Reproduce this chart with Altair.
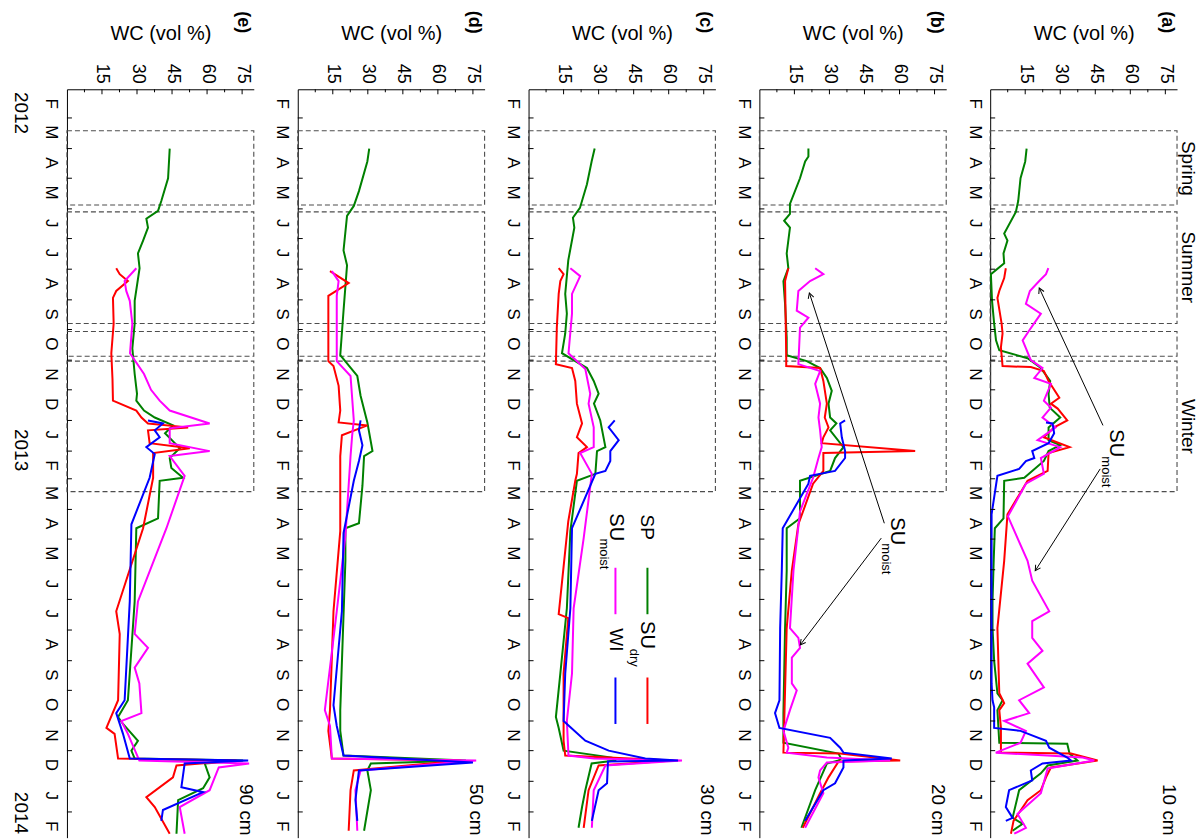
import math
import pandas as pd
import altair as alt

# ---------------- values ----------------
SERIES = ["SP", "SU_dry", "SU_moist", "WI"]
COLORS = ["#008000", "#ff0000", "#ff00ff", "#0000ff"]
LETTERS = ["(e)", "(d)", "(c)", "(b)", "(a)"]          # panels left -> right
DEPTHS = ["90 cm", "50 cm", "30 cm", "20 cm", "10 cm"]
WC_TICKS = [15, 30, 45, 60, 75]
WC_MINOR = [7.5, 22.5, 37.5, 52.5, 67.5]
YEARS = ["2012", "2013", "2014"]
YEAR_POS = ["2012-02-25", "2013-01-31", "2014-02-02"]
BOX_START = ["2012-03-14", "2012-06-04", "2012-10-03", "2012-11-02"]
BOX_END = ["2012-05-28", "2012-09-25", "2012-10-28", "2013-03-14"]
SEASONS = ["Spring", "Summer", "Winter"]
SEASON_POS = ["2012-04-21", "2012-07-30", "2013-01-07"]

# ---- (a) 10 cm ----
A_SP_T = ["2012-04-01","2012-04-14","2012-05-01","2012-05-24","2012-06-04","2012-06-26","2012-07-03","2012-07-16","2012-07-26","2012-08-06","2012-09-02","2012-09-25","2012-10-12","2012-10-22","2012-10-30","2012-11-09","2012-11-22","2012-12-05","2012-12-19","2012-12-29","2013-01-08","2013-01-21","2013-01-26","2013-02-01","2013-02-11","2013-02-28","2013-03-03","2013-04-10","2013-04-20","2013-05-23","2013-07-03","2013-07-30","2013-09-01","2013-10-04","2013-10-11","2013-10-21","2013-11-23","2013-11-24","2013-12-04","2013-12-11","2013-12-16","2013-12-24","2014-01-10","2014-02-07","2014-02-13","2014-02-20"]
A_SP_V = [15.6,15.0,13.0,12.0,11.0,6.0,7.4,5.7,6.0,0.3,0.8,1.7,2.5,3.9,16.0,21.7,25.7,25.0,25.5,30.0,25.0,25.0,30.0,25.0,23.0,14.6,6.0,5.7,2.0,1.5,1.0,1.0,1.7,3.1,5.3,3.1,3.9,33.0,34.0,37.4,24.6,21.7,12.4,9.6,13.9,9.6]
A_SUD_T = ["2012-07-31","2012-08-10","2012-08-23","2012-08-30","2012-09-25","2012-10-05","2012-10-19","2012-11-07","2012-11-08","2012-11-12","2012-11-22","2012-12-09","2012-12-15","2012-12-20","2013-01-01","2013-01-08","2013-01-18","2013-01-28","2013-02-03","2013-02-21","2013-03-03","2013-04-06","2013-05-23","2013-07-30","2013-10-04","2013-10-14","2013-10-21","2013-11-08","2013-12-03","2013-12-04","2013-12-11","2013-12-18","2013-12-28","2014-01-10","2014-01-20","2014-02-10","2014-02-23"]
A_SUD_V = [6.7,6.0,3.9,3.1,4.9,5.3,4.6,5.3,17.4,23.0,25.0,29.6,26.0,28.9,33.0,27.4,23.0,34.0,25.0,24.6,16.0,7.4,6.0,3.1,3.9,6.0,3.9,4.6,4.6,34.6,46.0,26.0,23.9,21.7,16.0,10.0,8.9]
A_SUM_T = ["2012-07-31","2012-08-06","2012-08-13","2012-08-23","2012-09-05","2012-09-15","2012-10-02","2012-10-12","2012-11-01","2012-11-09","2012-11-19","2012-11-25","2012-12-12","2012-12-19","2012-12-29","2013-01-08","2013-01-21","2013-01-28","2013-02-08","2013-02-24","2013-03-06","2013-04-08","2013-05-23","2013-06-12","2013-07-13","2013-07-23","2013-08-09","2013-08-22","2013-09-04","2013-09-28","2013-10-11","2013-10-24","2013-11-01","2013-11-11","2013-11-23","2013-12-03","2013-12-08","2013-12-11","2013-12-19","2014-01-13","2014-02-03","2014-02-17","2014-02-23"]
A_SUM_V = [24.9,23.9,21.0,17.0,15.3,21.7,16.7,13.9,17.4,22.4,18.9,26.0,23.0,26.0,22.4,28.0,20.3,30.0,21.7,23.0,15.3,7.6,16.0,18.0,25.3,18.0,18.0,22.4,16.0,23.0,12.4,16.7,6.0,15.3,13.0,2.4,39.6,44.6,24.6,21.7,11.7,15.3,10.3]
A_WI_T = ["2013-01-03","2013-01-04","2013-01-14","2013-01-24","2013-02-01","2013-02-08","2013-02-11","2013-02-19","2013-02-26","2013-04-06","2013-09-24","2013-10-11","2013-10-18","2013-11-08","2013-11-11","2013-11-21","2013-11-28","2013-12-08","2013-12-11","2013-12-14","2013-12-21","2013-12-31","2014-01-10","2014-01-27","2014-02-07","2014-02-10"]
A_WI_V = [23.9,26.7,27.4,25.0,18.0,18.9,15.3,12.4,3.1,0.6,0.6,1.0,1.7,1.7,13.0,23.9,25.3,33.0,34.6,22.4,17.4,18.0,8.1,6.7,9.6,6.7]

# ---- (b) 20 cm ----
B_SP_T = ["2012-04-01","2012-04-09","2012-04-14","2012-05-01","2012-05-27","2012-06-06","2012-06-13","2012-06-20","2012-07-16","2012-07-31","2012-08-13","2012-09-05","2012-10-09","2012-10-27","2012-11-02","2012-11-09","2012-11-19","2012-12-02","2012-12-15","2012-12-29","2013-01-04","2013-01-11","2013-01-28","2013-02-08","2013-02-21","2013-03-03","2013-04-10","2013-04-20","2013-06-02","2013-07-30","2013-10-24","2013-11-23","2013-12-04","2013-12-09","2013-12-11","2013-12-14","2014-01-10","2014-02-17"]
B_SP_V = [21.0,21.0,19.6,17.4,13.1,13.1,10.6,13.1,11.7,12.4,10.3,11.0,11.7,11.7,20.3,26.0,28.9,31.0,29.6,30.3,33.0,30.3,36.0,32.4,30.3,17.4,17.4,11.7,11.7,11.0,10.3,10.3,33.9,35.0,33.9,28.9,23.9,18.0]
B_SUD_T = ["2012-07-31","2012-08-13","2012-10-27","2012-11-07","2012-11-09","2012-11-22","2012-12-15","2012-12-29","2013-01-08","2013-01-18","2013-01-24","2013-02-01","2013-02-03","2013-02-21","2013-03-06","2013-04-16","2013-06-02","2013-07-30","2013-12-03","2013-12-04","2013-12-11","2013-12-12","2013-12-28","2014-01-13","2014-02-17"]
B_SUD_V = [12.4,11.0,11.5,11.5,26.0,27.4,28.9,28.0,29.6,27.4,26.7,66.7,27.4,27.4,23.0,16.7,13.9,11.7,10.3,34.6,60.3,33.9,29.6,26.0,18.6]
B_SUM_T = ["2012-07-31","2012-08-06","2012-08-13","2012-08-23","2012-09-12","2012-09-19","2012-09-29","2012-11-05","2012-11-12","2012-11-25","2012-12-15","2012-12-29","2013-01-11","2013-01-28","2013-02-08","2013-02-28","2013-04-03","2013-06-02","2013-07-30","2013-08-09","2013-08-19","2013-08-29","2013-09-24","2013-10-01","2013-10-21","2013-11-11","2013-11-28","2013-12-03","2013-12-08","2013-12-11","2013-12-13","2013-12-21","2013-12-28","2014-01-13","2014-02-17"]
B_SUM_V = [23.9,27.4,21.7,16.7,16.0,21.0,17.4,16.7,26.0,23.9,26.0,25.3,26.0,26.7,25.3,23.0,17.4,14.6,13.1,16.7,17.4,13.9,13.9,16.0,13.1,10.3,12.4,11.7,28.9,56.0,28.9,26.0,25.3,27.4,19.6]
B_WI_T = ["2013-01-01","2013-01-04","2013-01-18","2013-02-01","2013-02-08","2013-02-21","2013-02-26","2013-03-06","2013-04-20","2013-06-02","2013-07-30","2013-10-11","2013-10-24","2013-11-08","2013-11-18","2013-11-28","2013-12-03","2013-12-09","2013-12-11","2013-12-18","2014-01-03","2014-01-10","2014-02-10"]
B_WI_V = [36.7,34.6,35.3,36.7,36.7,32.4,21.7,21.0,10.0,9.6,8.9,8.6,6.7,8.6,30.3,34.6,36.0,56.7,36.0,36.0,32.4,27.4,19.6]

# ---- (c) 30 cm ----
C_SP_T = ["2012-04-01","2012-04-14","2012-05-07","2012-05-31","2012-06-10","2012-06-20","2012-07-23","2012-08-26","2012-09-15","2012-10-05","2012-10-25","2012-11-09","2012-11-22","2012-12-05","2012-12-15","2013-01-01","2013-01-28","2013-02-01","2013-02-24","2013-03-03","2013-04-23","2013-07-10","2013-09-14","2013-10-28","2013-11-08","2013-12-01","2013-12-08","2013-12-11","2013-12-14","2014-01-10","2014-01-27","2014-02-17"]
C_SP_V = [28.3,27.0,25.0,22.0,19.0,19.6,17.0,15.7,16.4,15.7,14.3,25.0,27.9,30.0,28.0,30.7,32.9,29.3,28.6,20.7,17.9,16.4,13.6,11.7,12.9,15.0,35.7,37.0,27.0,24.3,22.9,21.4]
C_SUD_T = ["2012-07-31","2012-08-06","2012-08-13","2012-08-26","2012-09-29","2012-11-05","2012-11-09","2012-11-22","2012-12-15","2013-01-04","2013-01-18","2013-01-28","2013-02-03","2013-02-24","2013-03-03","2013-04-13","2013-07-16","2013-07-20","2013-09-14","2013-11-21","2013-12-06","2013-12-11","2013-12-16","2014-01-10","2014-02-17"]
C_SUD_V = [12.9,15.0,13.6,12.9,12.1,11.7,18.6,20.0,20.7,22.9,20.7,25.0,21.4,20.7,20.0,17.0,12.9,17.0,15.0,15.0,15.7,62.0,30.0,25.7,23.6]
C_SUM_T = ["2012-07-31","2012-08-08","2012-08-26","2012-09-15","2012-10-25","2012-11-10","2012-12-05","2012-12-15","2013-01-08","2013-01-28","2013-02-03","2013-02-24","2013-04-30","2013-07-10","2013-09-14","2013-11-01","2013-12-06","2013-12-09","2013-12-11","2013-12-16","2014-01-10","2014-02-17"]
C_SUM_V = [17.9,22.1,18.6,18.6,17.1,24.3,26.4,25.7,27.9,27.9,22.1,27.1,23.6,19.3,18.6,16.4,17.1,28.0,65.7,32.9,27.9,27.1]
C_WI_T = ["2013-01-01","2013-01-08","2013-01-21","2013-02-01","2013-02-11","2013-02-21","2013-02-24","2013-04-20","2013-07-10","2013-09-14","2013-11-01","2013-11-21","2013-12-01","2013-12-09","2013-12-11","2013-12-12","2014-01-03","2014-01-10","2014-02-10"]
C_WI_V = [36.9,34.3,38.6,35.0,35.0,32.9,28.6,18.6,17.9,15.7,15.0,24.3,34.3,50.0,64.0,34.0,33.6,30.0,27.1]

# ---- (d) 50 cm ----
D_SP_T = ["2012-04-01","2012-04-14","2012-05-14","2012-05-29","2012-06-08","2012-07-13","2012-07-28","2012-09-12","2012-10-27","2012-11-17","2012-12-07","2013-01-03","2013-02-01","2013-02-06","2013-03-08","2013-04-15","2013-04-20","2013-05-23","2013-10-21","2013-11-11","2013-12-06","2013-12-11","2013-12-14","2013-12-21","2014-01-10","2014-02-20"]
D_SP_V = [30.6,29.8,26.2,24.0,21.1,19.6,21.1,19.6,18.2,25.5,26.9,29.8,32.0,28.4,27.7,26.2,20.4,20.4,18.2,18.2,19.6,72.0,31.3,29.8,31.3,28.4]
D_SUD_T = ["2012-08-03","2012-08-15","2012-08-28","2012-11-02","2012-11-07","2012-11-27","2012-12-22","2013-01-03","2013-01-06","2013-01-16","2013-02-06","2013-04-23","2013-07-13","2013-10-21","2013-11-11","2013-12-09","2013-12-11","2013-12-21","2014-01-10","2014-02-20"]
D_SUD_V = [13.8,21.8,13.1,13.1,15.3,17.5,18.2,17.5,29.8,18.9,18.2,18.2,15.3,13.8,13.1,14.6,70.0,24.0,22.6,21.8]
D_SUM_T = ["2012-08-03","2012-08-13","2012-08-28","2012-11-02","2012-11-17","2013-01-01","2013-01-16","2013-02-06","2013-04-28","2013-07-13","2013-10-21","2013-11-06","2013-12-09","2013-12-11","2013-12-21","2014-01-10","2014-02-20"]
D_SUM_V = [14.6,17.5,16.7,16.7,22.6,24.0,23.3,22.6,20.4,16.7,11.6,13.8,14.6,76.4,26.9,24.7,25.5]
D_WI_T = ["2013-01-01","2013-01-11","2013-01-26","2013-02-11","2013-03-03","2013-04-25","2013-07-13","2013-10-16","2013-11-06","2013-12-06","2013-12-13","2013-12-21","2014-01-20","2014-02-10"]
D_WI_V = [26.9,26.2,27.7,26.2,24.0,19.6,18.9,15.3,16.7,19.6,75.0,26.2,24.7,25.5]

# ---- (e) 90 cm ----
E_SP_T = ["2012-04-01","2012-05-01","2012-05-24","2012-06-03","2012-06-11","2012-06-20","2012-07-03","2012-07-16","2012-07-31","2012-09-02","2012-09-25","2012-10-20","2012-11-15","2012-12-05","2012-12-12","2012-12-22","2012-12-29","2013-01-06","2013-01-14","2013-01-29","2013-02-08","2013-02-18","2013-02-28","2013-03-03","2013-04-10","2013-04-20","2013-07-03","2013-10-11","2013-10-28","2013-11-04","2013-11-21","2013-12-01","2013-12-09","2013-12-11","2013-12-14","2013-12-28","2014-01-08","2014-01-20","2014-02-23"]
E_SP_V = [44.0,43.3,40.4,39.0,34.0,34.7,32.6,30.4,31.1,29.0,29.0,28.0,29.0,30.0,29.7,33.0,37.6,45.4,42.0,48.3,44.0,44.7,49.7,39.7,39.0,29.7,29.0,26.1,21.9,24.0,30.4,27.6,29.0,75.4,59.0,61.1,58.3,47.6,46.9]
E_SUD_T = ["2012-07-31","2012-08-06","2012-08-13","2012-08-23","2012-08-30","2012-09-25","2012-10-25","2012-11-20","2012-12-12","2012-12-22","2012-12-29","2013-01-04","2013-01-08","2013-01-11","2013-01-24","2013-01-29","2013-02-03","2013-02-28","2013-04-20","2013-07-13","2013-08-05","2013-10-11","2013-11-08","2013-11-14","2013-12-09","2013-12-11","2013-12-16","2013-12-28","2014-01-17","2014-01-27","2014-02-23"]
E_SUD_V = [21.1,22.6,26.1,21.1,19.7,20.0,19.0,19.5,19.7,29.7,31.9,34.7,51.9,34.7,35.4,52.6,36.9,36.9,32.6,21.1,22.6,21.9,16.9,20.4,21.9,72.6,46.9,45.4,34.0,37.6,44.0]
E_SUM_T = ["2012-07-31","2012-08-13","2012-08-23","2012-09-02","2012-09-25","2012-10-25","2012-11-15","2012-12-01","2012-12-12","2012-12-22","2013-01-04","2013-01-09","2013-01-24","2013-02-01","2013-02-06","2013-02-26","2013-04-20","2013-07-03","2013-08-05","2013-08-19","2013-09-08","2013-09-24","2013-10-24","2013-11-01","2013-11-14","2013-12-11","2013-12-14","2013-12-18","2014-01-10","2014-01-27","2014-02-23"]
E_SUM_V = [29.7,24.7,25.4,26.9,28.0,27.0,33.0,36.0,39.7,44.0,61.1,44.0,44.0,61.1,44.0,50.4,42.6,30.4,29.0,34.7,29.0,31.0,31.9,23.3,26.1,31.0,78.0,65.0,61.1,48.3,50.4]
E_WI_T = ["2013-01-01","2013-01-04","2013-01-11","2013-01-18","2013-01-28","2013-02-04","2013-02-28","2013-04-16","2013-07-03","2013-10-11","2013-10-24","2013-11-14","2013-12-09","2013-12-11","2013-12-14","2014-01-07","2014-01-12","2014-01-30","2014-02-10"]
E_WI_V = [34.7,41.1,37.6,39.7,34.0,37.6,35.4,27.6,26.9,24.7,21.1,24.0,26.9,77.6,50.4,49.0,58.3,41.1,40.4]

PANEL_DATA = [
    ([E_SP_T, E_SUD_T, E_SUM_T, E_WI_T], [E_SP_V, E_SUD_V, E_SUM_V, E_WI_V]),
    ([D_SP_T, D_SUD_T, D_SUM_T, D_WI_T], [D_SP_V, D_SUD_V, D_SUM_V, D_WI_V]),
    ([C_SP_T, C_SUD_T, C_SUM_T, C_WI_T], [C_SP_V, C_SUD_V, C_SUM_V, C_WI_V]),
    ([B_SP_T, B_SUD_T, B_SUM_T, B_WI_T], [B_SP_V, B_SUD_V, B_SUM_V, B_WI_V]),
    ([A_SP_T, A_SUD_T, A_SUM_T, A_WI_T], [A_SP_V, A_SUD_V, A_SUM_V, A_WI_V]),
]

# ---------------- layout / styling ----------------
W, H = 187, 749
T0, T1 = "2012-02-01", "2014-02-27"
PX_WC = W / 80.0
PX_DAY = H / (pd.Timestamp(T1) - pd.Timestamp(T0)).days
FONT = "Liberation Sans"


def dt(s):
    t = pd.Timestamp(s)
    return alt.DateTime(year=t.year, month=t.month, date=t.day)


month_starts = pd.date_range("2012-03-01", "2014-02-01", freq="MS")
mid_months = pd.date_range("2012-02-01", "2014-02-01", freq="MS") + pd.Timedelta(days=14)

color_scale = alt.Scale(domain=SERIES, range=COLORS)

X = alt.X("wc:Q", scale=alt.Scale(domain=[0, 80], nice=False, zero=False),
          axis=alt.Axis(orient="top", values=WC_TICKS, title="WC (vol %)",
                        labelAngle=90, labelAlign="right", labelBaseline="middle",
                        labelPadding=6, ticks=False, tickSize=0, grid=False,
                        titlePadding=20, labelFontSize=18, titleFontSize=20,
                        domainColor="black", domainWidth=1))
Y = alt.Y("date:T", scale=alt.Scale(domain=[dt(T0), dt(T1)], reverse=True),
          axis=alt.Axis(values=[dt(d) for d in mid_months],
                        labelExpr="substring(timeFormat(datum.value, '%b'), 0, 1)",
                        labelAngle=90, labelAlign="center", labelBaseline="top",
                        labelPadding=8, ticks=False, tickSize=0, grid=False, title="",
                        labelFontSize=17, domainColor="black", domainWidth=1))


def arrow_layers(arrows):
    rows, heads = [], []
    for (w1, d1, w2, d2) in arrows:
        rows.append({"wc": w1, "date": pd.Timestamp(d1), "wc2": w2, "date2": pd.Timestamp(d2)})
        dx = (w2 - w1) * PX_WC
        dy = (pd.Timestamp(d2) - pd.Timestamp(d1)).days * PX_DAY
        heads.append({"wc": w2, "date": pd.Timestamp(d2),
                      "ang": math.degrees(math.atan2(dy, dx)) % 360})
    lines = alt.Chart(pd.DataFrame(rows)).mark_rule(color="black", strokeWidth=1).encode(
        x=X, y=Y, x2="wc2:Q", y2="date2:T")
    hd = alt.Chart(pd.DataFrame(heads)).mark_point(
        shape="M-1,-0.55L0,0L-1,0.55", filled=False, color="black", strokeWidth=1,
        size=110, opacity=1).encode(x=X, y=Y, angle=alt.Angle("ang:Q", scale=None))
    return [lines, hd]


def su_label(wc_su, d_su, wc_sub, d_sub, sub):
    df1 = pd.DataFrame({"wc": [wc_su], "date": [pd.Timestamp(d_su)], "t": ["SU"]})
    df2 = pd.DataFrame({"wc": [wc_sub], "date": [pd.Timestamp(d_sub)], "t": [sub]})
    a = alt.Chart(df1).mark_text(angle=90, fontSize=20, align="center", baseline="middle").encode(
        x=X, y=Y, text="t:N")
    b = alt.Chart(df2).mark_text(angle=90, fontSize=13, align="center", baseline="middle").encode(
        x=X, y=Y, text="t:N")
    return [a, b]


def make_panel(i):
    tl, vl = PANEL_DATA[i]
    rows = []
    for s, ts, vs in zip(SERIES, tl, vl):
        for k, (t, v) in enumerate(zip(ts, vs)):
            rows.append({"series": s, "date": pd.Timestamp(t), "wc": v, "ord": k})
    df = pd.DataFrame(rows)

    box_df = pd.DataFrame({"date": pd.to_datetime(BOX_START), "date2": pd.to_datetime(BOX_END)})
    boxes = alt.Chart(box_df).mark_rect(fillOpacity=0, stroke="#4d4d4d", strokeDash=[5, 3],
                                        strokeWidth=1.1).encode(
        x=alt.value(0), x2=alt.value(W), y=Y, y2="date2:T")

    lines = alt.Chart(df).mark_line(strokeWidth=2).encode(
        x=X, y=Y, color=alt.Color("series:N", scale=color_scale, legend=None),
        detail="series:N", order=alt.Order("ord:Q"))

    mticks = alt.Chart(pd.DataFrame({"date": month_starts})).mark_rule(
        color="black", strokeWidth=1).encode(y=Y, x=alt.value(0), x2=alt.value(5))
    tmaj = alt.Chart(pd.DataFrame({"wc": WC_TICKS})).mark_rule(
        color="black", strokeWidth=1).encode(x=X, y=alt.value(0), y2=alt.value(5))
    tmin = alt.Chart(pd.DataFrame({"wc": WC_MINOR})).mark_rule(
        color="black", strokeWidth=1).encode(x=X, y=alt.value(0), y2=alt.value(3))

    letter = alt.Chart(pd.DataFrame({"wc": [75.5], "t": [LETTERS[i]]})).mark_text(
        angle=90, fontSize=18, fontWeight="bold", align="center", baseline="middle").encode(
        x=X, y=alt.value(-67), text="t:N")
    depth = alt.Chart(pd.DataFrame({"wc": [76.5], "date": [pd.Timestamp("2014-02-25")],
                                    "t": [DEPTHS[i]]})).mark_text(
        angle=90, fontSize=19, align="right", baseline="middle").encode(x=X, y=Y, text="t:N")

    layers = [boxes, lines, mticks, tmaj, tmin, letter, depth]

    if i == 0:  # (e): year labels
        layers.append(alt.Chart(pd.DataFrame({"date": pd.to_datetime(YEAR_POS), "t": YEARS})).mark_text(
            angle=90, fontSize=19, align="center", baseline="middle").encode(
            x=alt.value(-46), y=Y, text="t:N"))
    if i == 2:  # (c): legend
        leg = pd.DataFrame({"series": SERIES,
                            "wc": [50.9, 50.9, 37.2, 37.2],
                            "date": pd.to_datetime(["2013-05-30", "2013-09-18", "2013-05-30", "2013-09-18"]),
                            "date2": pd.to_datetime(["2013-07-16", "2013-11-04", "2013-07-16", "2013-11-04"])})
        layers.append(alt.Chart(leg).mark_rule(strokeWidth=2).encode(
            x=X, y=Y, y2="date2:T", color=alt.Color("series:N", scale=color_scale, legend=None)))
        txt = pd.DataFrame({"wc": [50.5, 37.6], "date": pd.to_datetime(["2013-04-19", "2013-08-11"]),
                            "t": ["SP", "WI"]})
        layers.append(alt.Chart(txt).mark_text(angle=90, fontSize=19, align="center",
                                               baseline="middle").encode(x=X, y=Y, text="t:N"))
        layers += su_label(50.5, "2013-08-06", 45.0, "2013-08-29", "dry")
        layers += su_label(37.6, "2013-04-19", 32.5, "2013-05-16", "moist")
    if i == 3:  # (b)
        layers += su_label(58.8, "2013-04-23", 54.3, "2013-05-21", "moist")
        layers += arrow_layers([(53.5, "2013-04-15", 21.4, "2012-08-25"),
                                (52.2, "2013-04-30", 17.5, "2013-08-16")])
    if i == 4:  # (a)
        layers += su_label(54.0, "2013-01-24", 49.6, "2013-02-22", "moist")
        layers += arrow_layers([(48.3, "2013-01-06", 21.0, "2012-08-20"),
                                (47.1, "2013-02-19", 19.3, "2013-06-02")])
        layers.append(alt.Chart(pd.DataFrame({"date": pd.to_datetime(SEASON_POS), "t": SEASONS})).mark_text(
            angle=90, fontSize=19, align="center", baseline="alphabetic").encode(
            x=alt.value(W + 5), y=Y, text="t:N"))

    return alt.layer(*layers).properties(width=W, height=H)


panels = [make_panel(i) for i in range(5)]

chart = alt.hconcat(*panels, spacing=44, bounds="flush").properties(
    padding={"left": 10, "top": 10, "right": 5, "bottom": 0}
).configure_view(stroke=None).configure_axis(
    labelFont=FONT, titleFont=FONT, labelColor="black", titleColor="black",
    titleFontWeight="normal"
).configure_text(font=FONT, color="black")

chart.save("out.html", embed_options={"renderer": "svg", "actions": False})
